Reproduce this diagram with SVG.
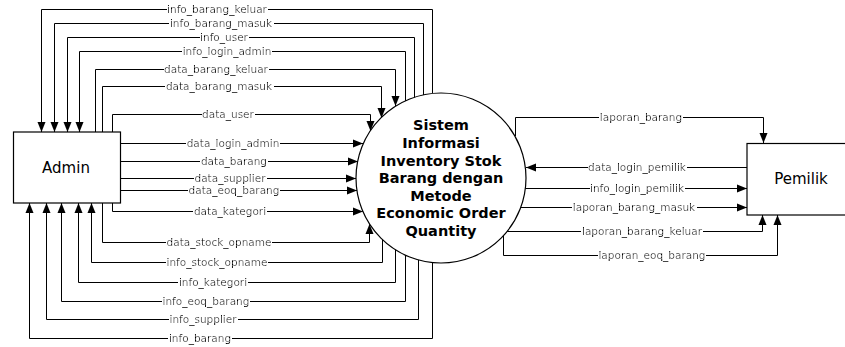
<svg xmlns="http://www.w3.org/2000/svg" width="845" height="347" viewBox="0 0 845 347">
<defs>
<marker id="ah" markerUnits="userSpaceOnUse" markerWidth="10" markerHeight="10" viewBox="0 0 10 10" refX="10" refY="5" orient="auto">
<path d="M0,1 L10,5 L0,9 Z" fill="#000"/>
</marker>
<filter id="bg" x="0" y="0" width="1" height="1" primitiveUnits="objectBoundingBox">
<feFlood flood-color="#fff" x="0" y="0.25" width="1" height="0.45" result="f"/>
<feComposite in="SourceGraphic" in2="f" operator="over" x="0" y="0" width="1" height="1"/>
</filter>
<style>
.c{fill:none;stroke:#000;stroke-width:1}
.a{marker-end:url(#ah)}
.l{font-family:"DejaVu Sans",Verdana,sans-serif;font-size:10.5px;fill:#000;text-anchor:middle;filter:url(#bg)}
.box{fill:#fff;stroke:#000;stroke-width:1.2}
.bt{font-family:"DejaVu Sans",Verdana,sans-serif;font-size:15px;fill:#000;text-anchor:middle}
.pt{font-family:"DejaVu Sans",Verdana,sans-serif;font-size:14.5px;font-weight:bold;fill:#000;text-anchor:middle}
</style>
</defs>
<rect width="845" height="347" fill="#fff"/>
<g id="connectors">
<path class="c a" d="M432.5,93 V9.5 H41.5 V132"/>
<path class="c a" d="M423.5,96 V23.5 H54.5 V132"/>
<path class="c a" d="M414.5,98 V37.5 H67.5 V132"/>
<path class="c a" d="M405.5,101 V51.5 H79.5 V132"/>
<path class="c a" d="M95.5,132 V69.5 H395.5 V106"/>
<path class="c a" d="M102.5,132 V86.5 H381.5 V118"/>
<path class="c a" d="M112.5,132 V114.5 H370.5 V131"/>
<path class="c a" d="M120,143.5 H363"/>
<path class="c a" d="M120,161.5 H358"/>
<path class="c a" d="M120,178.5 H356"/>
<path class="c a" d="M120,190.5 H357"/>
<path class="c a" d="M112.5,203 V211.5 H363"/>
<path class="c a" d="M102.5,203 V242.5 H369.5 V224"/>
<path class="c a" d="M382.5,239 V262.5 H91.5 V203"/>
<path class="c a" d="M395.5,249 V282.5 H78.5 V203"/>
<path class="c a" d="M405.5,255 V301.5 H61.5 V203"/>
<path class="c a" d="M418.5,260 V319.5 H46.5 V203"/>
<path class="c a" d="M432.5,262 V338.5 H29.5 V203"/>
<path class="c a" d="M515.5,136 V117.5 H763.5 V143"/>
<path class="c a" d="M747,167.5 H526"/>
<path class="c a" d="M525,188.5 H747"/>
<path class="c a" d="M521,207.5 H747"/>
<path class="c a" d="M507,231.5 H762.5 V215"/>
<path class="c a" d="M503.5,236 V255.5 H777.5 V215"/>
</g>
<g id="labels">
<text class="l" x="217" y="13">info_barang_keluar</text>
<text class="l" x="221" y="27">info_barang_masuk</text>
<text class="l" x="224" y="41">info_user</text>
<text class="l" x="227" y="55">info_login_admin</text>
<text class="l" x="216" y="73">data_barang_keluar</text>
<text class="l" x="219" y="90">data_barang_masuk</text>
<text class="l" x="228" y="118">data_user</text>
<text class="l" x="233" y="147">data_login_admin</text>
<text class="l" x="234" y="165">data_barang</text>
<text class="l" x="230" y="182">data_supplier</text>
<text class="l" x="234" y="194">data_eoq_barang</text>
<text class="l" x="230" y="215">data_kategori</text>
<text class="l" x="219" y="246">data_stock_opname</text>
<text class="l" x="217" y="266">info_stock_opname</text>
<text class="l" x="213" y="286">info_kategori</text>
<text class="l" x="206" y="305">info_eoq_barang</text>
<text class="l" x="203" y="323">info_supplier</text>
<text class="l" x="200" y="342">info_barang</text>
<text class="l" x="641" y="121">laporan_barang</text>
<text class="l" x="637" y="171">data_login_pemilik</text>
<text class="l" x="637" y="192">info_login_pemilik</text>
<text class="l" x="634" y="211">laporan_barang_masuk</text>
<text class="l" x="642" y="235">laporan_barang_keluar</text>
<text class="l" x="652" y="259">laporan_eoq_barang</text>
</g>
<g id="admin">
<rect class="box" x="13.5" y="132" width="107" height="71"/>
<text class="bt" x="66" y="173">Admin</text>
</g>
<g id="pemilik">
<rect class="box" x="747" y="143.5" width="110" height="71.5"/>
<text class="bt" x="801" y="184">Pemilik</text>
</g>
<g id="sistem">
<circle cx="441" cy="178" r="85" fill="#fff" stroke="#000" stroke-width="1.2"/>
<text class="pt" x="441" y="130">Sistem</text>
<text class="pt" x="441" y="148">Informasi</text>
<text class="pt" x="441" y="165.5">Inventory Stok</text>
<text class="pt" x="441" y="183">Barang dengan</text>
<text class="pt" x="441" y="200.5">Metode</text>
<text class="pt" x="441" y="218">Economic Order</text>
<text class="pt" x="441" y="236">Quantity</text>
</g>
</svg>
